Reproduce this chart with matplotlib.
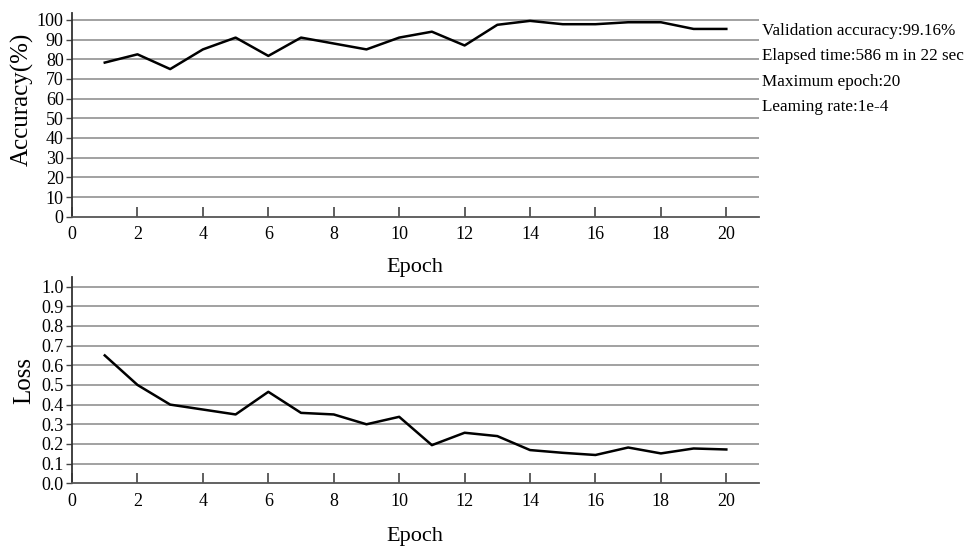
import numpy as np
import matplotlib.pyplot as plt

plt.rcParams['font.family'] = ['Liberation Serif', 'DejaVu Serif']

epochs = list(range(1, 21))
accuracy = [78.3, 82.5, 75.0, 85.0, 91.0, 81.7, 91.0, 88.0, 85.0, 91.0,
            94.0, 87.0, 97.5, 99.5, 97.8, 97.8, 98.8, 98.8, 95.4, 95.4]
loss = [0.65, 0.50, 0.40, 0.375, 0.35, 0.465, 0.358, 0.35, 0.30, 0.338,
        0.194, 0.257, 0.24, 0.169, 0.155, 0.144, 0.182, 0.152, 0.177, 0.172]
info_lines = ['Validation accuracy:99.16%',
              'Elapsed time:586 m in 22 sec',
              'Maximum epoch:20',
              'Leaming rate:1e-4']

fig = plt.figure(figsize=(9.71, 5.46), dpi=100)
ax1 = fig.add_axes([0.0742, 0.6031, 0.7075, 0.3731])
ax2 = fig.add_axes([0.0742, 0.1148, 0.7075, 0.3784])


def style_axis(ax, yticks, ylim):
    ax.set_xlim(0, 21)
    ax.set_ylim(*ylim)
    ax.set_xticks(range(0, 21, 2))
    ax.set_yticks(yticks)
    for s in ['top', 'right']:
        ax.spines[s].set_visible(False)
    ax.spines['left'].set_linewidth(1.3)
    ax.spines['bottom'].set_linewidth(1.3)
    ax.spines['left'].set_color('#333333')
    ax.spines['bottom'].set_color('#555555')
    ax.tick_params(axis='x', direction='in', length=7, width=1.2,
                   labelsize=13, pad=7, color='#444444')
    ax.tick_params(axis='y', direction='out', length=4, width=1.0,
                   labelsize=13, pad=2, color='#444444')
    for y in yticks[1:]:
        ax.axhline(y, color='#9a9a9a', linewidth=1.3, zorder=1)
    ax.set_xlabel('Epoch', fontsize=16)


ax1.plot(epochs, accuracy, color='black', linewidth=1.8, zorder=3)
style_axis(ax1, list(range(0, 101, 10)), (0, 103.5))
ax1.set_ylabel('Accuracy(%)', fontsize=18, va='center')
ax1.yaxis.set_label_coords(-0.073, 0.575)
ax1.xaxis.set_label_coords(0.499, -0.203)

ax2.plot(epochs, loss, color='black', linewidth=1.8, zorder=3)
style_axis(ax2, [round(v, 1) for v in np.arange(0, 1.01, 0.1)], (0, 1.05))
ax2.set_yticklabels([f'{v:.1f}' for v in np.arange(0, 1.01, 0.1)])
ax2.set_ylabel('Loss', fontsize=18, va='center')
ax2.yaxis.set_label_coords(-0.069, 0.5)
ax2.xaxis.set_label_coords(0.499, -0.2115)

for i, line in enumerate(info_lines):
    fig.text(762 / 971, 1 - (31 + i * 25.3) / 546, line, fontsize=12.3,
             va='center', ha='left')

fig.savefig('out.png', dpi=100)
